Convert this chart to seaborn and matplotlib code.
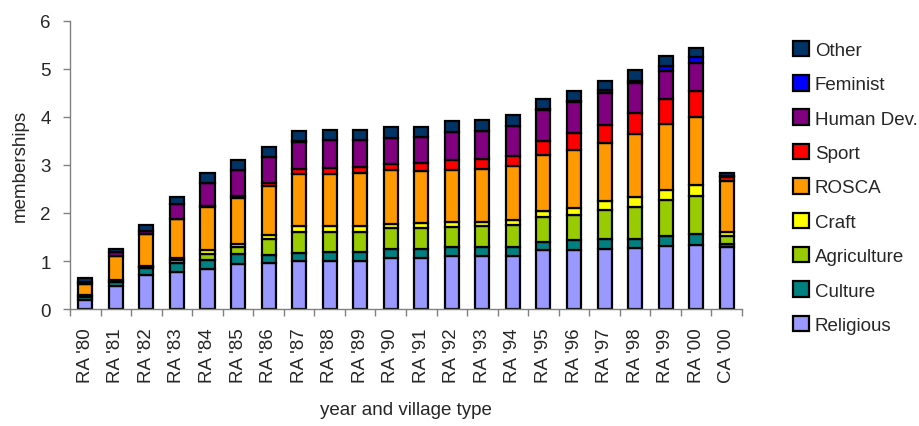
import matplotlib
matplotlib.use("Agg")
import matplotlib.pyplot as plt
from matplotlib.patches import Patch
from matplotlib.ticker import FixedLocator
import numpy as np
import pandas as pd
import seaborn as sns

# Village/year categories
categories = ["RA '80", "RA '81", "RA '82", "RA '83", "RA '84", "RA '85", "RA '86",
              "RA '87", "RA '88", "RA '89", "RA '90", "RA '91", "RA '92", "RA '93",
              "RA '94", "RA '95", "RA '96", "RA '97", "RA '98", "RA '99", "RA '00",
              "CA '00"]

# Average memberships per association type
religious = [0.19, 0.47, 0.70, 0.78, 0.83, 0.94, 0.95, 0.99, 0.99, 1.00, 1.06,
             1.06, 1.10, 1.10, 1.11, 1.22, 1.22, 1.25, 1.27, 1.32, 1.33, 1.30]
culture = [0.07, 0.09, 0.15, 0.18, 0.20, 0.21, 0.18, 0.18, 0.19, 0.19, 0.18,
           0.19, 0.19, 0.20, 0.18, 0.18, 0.21, 0.21, 0.19, 0.21, 0.23, 0.05]
agriculture = [0.03, 0.05, 0.03, 0.06, 0.12, 0.14, 0.33, 0.43, 0.42, 0.42, 0.44,
               0.43, 0.41, 0.42, 0.45, 0.51, 0.52, 0.60, 0.67, 0.74, 0.80, 0.18]
craft = [0.00, 0.00, 0.02, 0.04, 0.07, 0.07, 0.08, 0.12, 0.12, 0.12, 0.09,
         0.11, 0.12, 0.10, 0.12, 0.14, 0.15, 0.18, 0.20, 0.20, 0.23, 0.07]
rosca = [0.24, 0.50, 0.66, 0.82, 0.90, 0.95, 1.03, 1.10, 1.10, 1.11, 1.13,
         1.09, 1.08, 1.10, 1.11, 1.15, 1.22, 1.21, 1.32, 1.39, 1.42, 1.06]
sport = [0.00, 0.00, 0.00, 0.00, 0.03, 0.05, 0.06, 0.10, 0.12, 0.12, 0.12,
         0.16, 0.21, 0.21, 0.21, 0.31, 0.34, 0.39, 0.43, 0.52, 0.54, 0.08]
human_dev = [0.03, 0.07, 0.06, 0.30, 0.47, 0.54, 0.53, 0.56, 0.58, 0.56, 0.54,
             0.55, 0.57, 0.57, 0.64, 0.63, 0.65, 0.66, 0.63, 0.57, 0.57, 0.04]
feminist = [0.00, 0.00, 0.00, 0.00, 0.00, 0.00, 0.00, 0.02, 0.00, 0.00, 0.00,
            0.00, 0.00, 0.00, 0.00, 0.02, 0.03, 0.07, 0.05, 0.12, 0.13, 0.00]
other = [0.08, 0.07, 0.13, 0.16, 0.21, 0.21, 0.21, 0.20, 0.20, 0.20, 0.23,
         0.21, 0.23, 0.23, 0.23, 0.22, 0.21, 0.19, 0.21, 0.21, 0.19, 0.05]

# Legend order (top to bottom); stacking is the reverse of this
series_names = ["Other", "Feminist", "Human Dev.", "Sport", "ROSCA",
                "Craft", "Agriculture", "Culture", "Religious"]
series_values = [other, feminist, human_dev, sport, rosca,
                 craft, agriculture, culture, religious]
series_colors = ["#003366", "#0000FF", "#800080", "#FF0000", "#FF9900",
                 "#FFFF00", "#99CC00", "#008080", "#9999FF"]

rows = []
for name, vals in zip(series_names, series_values):
    for cat, v in zip(categories, vals):
        rows.append({"category": cat, "type": name, "memberships": v})
df = pd.DataFrame(rows)
df["category"] = pd.Categorical(df["category"], categories=categories, ordered=True)
df["pos"] = df["category"].cat.codes

sns.set_theme(style="white")
plt.rcParams["font.family"] = ["Liberation Sans", "DejaVu Sans"]

fig = plt.figure(figsize=(9.19, 4.27), dpi=100)
ax = fig.add_axes([0.0762, 0.274, 0.7312, 0.6745])

palette = dict(zip(series_names, series_colors))
sns.histplot(data=df, x="pos", weights="memberships", hue="type",
             hue_order=series_names, multiple="stack", discrete=True,
             shrink=0.46, palette=palette, alpha=1, edgecolor="black",
             linewidth=1.6, legend=False, ax=ax)

ax.set_xlim(-0.5, len(categories) - 0.5)
ax.set_ylim(0, 6)
ax.set_yticks(range(0, 7))
ax.set_xticks(range(len(categories)))
ax.set_xticklabels(categories, rotation=90, fontsize=13.5)
ax.xaxis.set_minor_locator(FixedLocator(np.arange(-0.5, len(categories), 1.0)))
ax.tick_params(axis="x", which="major", length=0, pad=13)
ax.tick_params(axis="x", which="minor", length=5, width=1, color="#808080",
               direction="out", bottom=True)
ax.tick_params(axis="y", length=5, width=1, color="#808080", direction="out",
               left=True, labelsize=13.5, pad=9)

for side in ["top", "right"]:
    ax.spines[side].set_visible(False)
for side in ["left", "bottom"]:
    ax.spines[side].set_color("#808080")
    ax.spines[side].set_linewidth(1.0)

ax.set_xlabel("year and village type", fontsize=13.5, labelpad=14)
ax.set_ylabel("memberships", fontsize=13.5, labelpad=8)

handles = [Patch(facecolor=c, edgecolor="black", linewidth=1.6)
           for c in series_colors]
fig.legend(handles, series_names, loc="upper left",
           bbox_to_anchor=(0.855, 0.92), frameon=False, fontsize=13.5,
           handlelength=0.85, handleheight=0.9, handletextpad=0.3,
           labelspacing=0.86, borderaxespad=0)

fig.savefig("out.png", dpi=100)
